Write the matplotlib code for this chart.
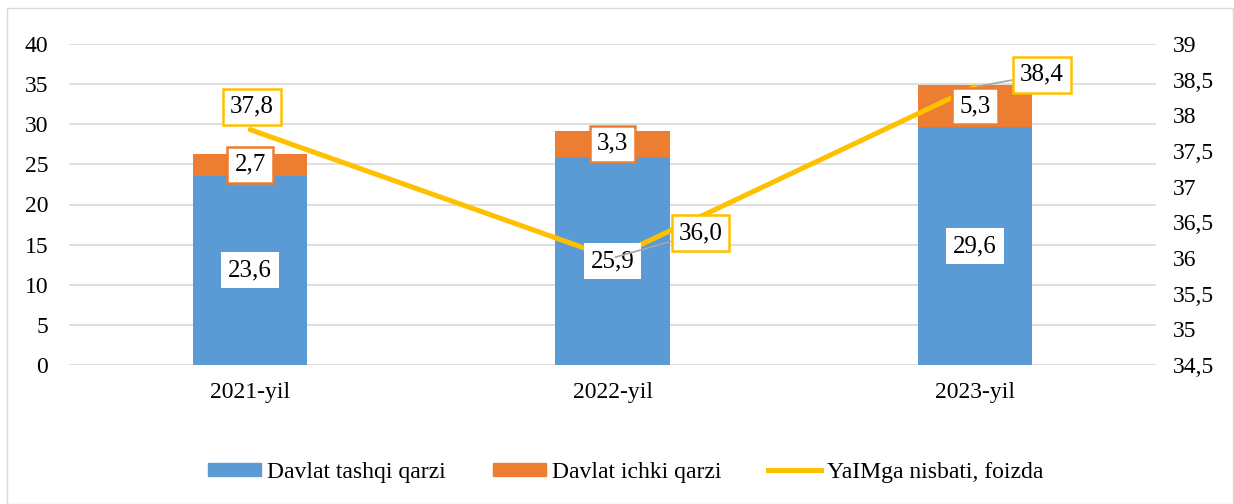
import matplotlib
matplotlib.use("Agg")
import matplotlib.pyplot as plt
from matplotlib.patches import Rectangle, Patch
from matplotlib.lines import Line2D
from matplotlib.ticker import FuncFormatter

plt.rcParams['font.family'] = ['Liberation Serif', 'DejaVu Serif']

# ma'lumotlar
years = ["2021-yil", "2022-yil", "2023-yil"]
tashqi = [23.6, 25.9, 29.6]
ichki = [2.7, 3.3, 5.3]
yaim_nisbati = [37.8, 36.0, 38.4]

BLUE = "#5B9BD5"
ORANGE = "#ED7D31"
YELLOW = "#FFC000"
GRID = "#D9D9D9"

def comma(v, pos=None):
    s = ("%g" % v)
    return s.replace(".", ",")

fig = plt.figure(figsize=(12.34, 5.04), dpi=100)
fig.patches.append(Rectangle((7/1234, 0), 1226/1234, 496/504, transform=fig.transFigure,
                             fill=False, edgecolor=GRID, linewidth=1))

ax = fig.add_axes([69/1234, 1 - 365/504, (1156 - 69)/1234, (365 - 44)/504])
x = list(range(len(years)))
ax.bar(x, tashqi, width=0.315, color=BLUE, zorder=2)
ax.bar(x, ichki, width=0.315, bottom=tashqi, color=ORANGE, zorder=2)
ax.set_xlim(-0.5, 2.5)
ax.set_ylim(0, 40)
ax.set_yticks(range(0, 41, 5))
ax.set_xticks(x)
ax.set_xticklabels(years)
ax.yaxis.grid(True, color=GRID, linewidth=1.2, zorder=0)
ax.set_axisbelow(True)
for s in ax.spines.values():
    s.set_visible(False)
ax.tick_params(axis='both', length=0, labelsize=17)
ax.tick_params(axis='x', pad=12)
ax.tick_params(axis='y', pad=15)

ax2 = ax.twinx()
ax2.plot(x, yaim_nisbati, color=YELLOW, linewidth=3.6, solid_capstyle='round', zorder=3)
ax2.set_ylim(34.5, 39)
ax2.set_yticks([34.5 + 0.5 * i for i in range(10)])
ax2.yaxis.set_major_formatter(FuncFormatter(comma))
for s in ax2.spines.values():
    s.set_visible(False)
ax2.tick_params(axis='y', length=0, labelsize=17, pad=12)

# bar yorliqlari (chiziqdan yuqorida turishi uchun ax2 ustida)
for i in x:
    ax2.annotate(comma(tashqi[i]), (i, tashqi[i] / 2), xycoords=ax.transData,
                 ha='center', va='center', fontsize=18, zorder=5,
                 bbox=dict(boxstyle='square,pad=0.28', fc='white', ec='none'))
    ax2.annotate(comma(ichki[i]), (i, tashqi[i] + ichki[i] / 2), xycoords=ax.transData,
                 ha='center', va='center', fontsize=18, zorder=5,
                 bbox=dict(boxstyle='square,pad=0.28', fc='white', ec=ORANGE, lw=1.8))

offsets = [(2, 23), (88, 25), (67, 12)]
for i in x:
    lbl = "%.1f" % yaim_nisbati[i]
    arrow = None
    if i > 0:
        arrow = dict(arrowstyle='-', color='#A6A6A6', lw=1.2, shrinkA=0, shrinkB=2)
    ax2.annotate(lbl.replace(".", ","), (i, yaim_nisbati[i]), textcoords='offset pixels',
                 xytext=offsets[i], ha='center', va='center', fontsize=18, zorder=6,
                 bbox=dict(boxstyle='square,pad=0.28', fc='white', ec=YELLOW, lw=1.8),
                 arrowprops=arrow)

handles = [Patch(color=BLUE, label="Davlat tashqi qarzi"),
           Patch(color=ORANGE, label="Davlat ichki qarzi"),
           Line2D([0], [0], color=YELLOW, lw=3.6, label="YaIMga nisbati, foizda")]
fig.legend(handles=handles, loc='center', bbox_to_anchor=(0.507, 0.063), ncol=3,
           frameon=False, fontsize=17, handlelength=2.25, handleheight=0.5,
           columnspacing=2.0, handletextpad=0.25)

fig.savefig("out.png", dpi=100)
